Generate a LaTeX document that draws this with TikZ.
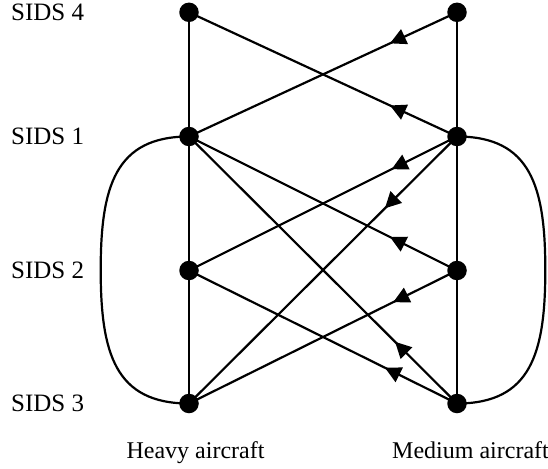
\documentclass[tikz,border=0pt]{standalone}
\usepackage{fontspec}
\setmainfont{Liberation Serif}
\usetikzlibrary{arrows.meta,decorations.markings}
\begin{document}
\begin{tikzpicture}[x=1pt,y=-1pt,
  dot/.style={circle,fill=black,inner sep=0pt,minimum size=19.5pt},
  edge/.style={line width=2.2pt},
  arr/.style={edge,postaction={decorate},decoration={markings,mark=at position #1 with {\arrow{Triangle[length=16pt,width=16pt]}}}},
  lab/.style={font=\fontsize{25}{30}\selectfont,anchor=west,inner sep=0pt},
  caplab/.style={font=\fontsize{24}{29}\selectfont,anchor=base,inner sep=0pt}]
\useasboundingbox (0,0) rectangle (548,468);
% nodes
\node[dot] (L4) at (189,12.3) {};
\node[dot] (L1) at (189,136.5) {};
\node[dot] (L2) at (189,270.5) {};
\node[dot] (L3) at (189,403.5) {};
\node[dot] (R4) at (457,12.3) {};
\node[dot] (R1) at (457,136.5) {};
\node[dot] (R2) at (457,270.5) {};
\node[dot] (R3) at (457,403.5) {};
% labels
\node[lab] (s4) at (11,12.3) {SIDS 4};
\node[lab] (s1) at (11,136.5) {SIDS 1};
\node[lab] (s2) at (11,270.5) {SIDS 2};
\node[lab] (s3) at (11,403.5) {SIDS 3};
\node[caplab] (hv) at (195.5,458) {Heavy aircraft};
\node[caplab] (md) at (470.5,458) {Medium aircraft};
% verticals
\draw[edge] (L4.center) -- (L1.center) -- (L2.center) -- (L3.center);
\draw[edge] (R4.center) -- (R1.center) -- (R2.center) -- (R3.center);
% side arcs
\coordinate (la) at (100.7,270);
\coordinate (ra) at (545.3,270);
\draw[edge] (L1.center) .. controls (115,136.5) and (100.7,187) .. (la)
  .. controls (100.7,353) and (115,403.5) .. (L3.center);
\draw[edge] (R1.center) .. controls (531,136.5) and (545.3,187) .. (ra)
  .. controls (545.3,353) and (531,403.5) .. (R3.center);
% crossing arrows
\draw[arr=0.25] (R4.center) -- (L1.center);
\draw[arr=0.25] (R1.center) -- (L4.center);
\draw[arr=0.244] (R1.center) -- (L2.center);
\draw[arr=0.269] (R1.center) -- (L3.center);
\draw[arr=0.25] (R2.center) -- (L1.center);
\draw[arr=0.238] (R2.center) -- (L3.center);
\draw[arr=0.231] (R3.center) -- (L1.center);
\draw[arr=0.269] (R3.center) -- (L2.center);
\end{tikzpicture}
\end{document}
